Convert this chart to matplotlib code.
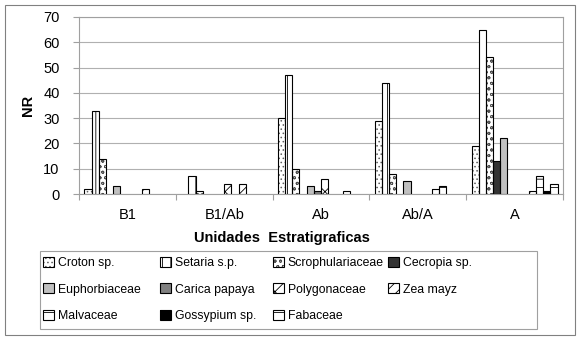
import numpy as np
import matplotlib
matplotlib.use("Agg")
import matplotlib.pyplot as plt
from matplotlib.patches import Patch, Rectangle

# datos: NR por unidad estratigrafica
unidades = ["B1", "B1/Ab", "Ab", "Ab/A", "A"]

# 12 series en el grafico original; la octava no tiene valores ni leyenda
taxa = ["Croton sp.", "Setaria s.p.", "Scrophulariaceae", "Cecropia sp.",
        "Euphorbiaceae", "Carica papaya", "Polygonaceae", None,
        "Zea mayz", "Malvaceae", "Gossypium sp.", "Fabaceae"]

nan = np.nan
croton = [2, nan, 30, 29, 19]
setaria = [33, 7, 47, 44, 65]
scroph = [14, 1, 10, 8, 54]
cecropia = [nan, nan, nan, nan, 13]
euphorb = [3, nan, 3, 5, 22]
carica = [nan, nan, 1, nan, nan]
polygon = [nan, 4, 6, nan, nan]
vacia = [nan, nan, nan, nan, nan]
zea = [2, 4, nan, 2, 1]
malva = [nan, nan, 1, 3, 7]
gossyp = [nan, nan, nan, nan, 1]
fabaceae = [nan, nan, nan, nan, 4]

valores = [croton, setaria, scroph, cecropia, euphorb, carica, polygon,
           vacia, zea, malva, gossyp, fabaceae]

# estilo de cada serie (relleno, trama, color de trama)
rellenos = ["white", "white", "white", "#333333", "#c0c0c0", "#808080",
            "white", "white", "white", "white", "black", "white"]
tramas = ["....", "||", "ooo", None, None, None, "xx", None,
          "///", "--", None, "--"]
color_trama = ["#606060", "black", "#505050", "black", "black", "black",
               "black", "black", "black", "black", "black", "black"]

plt.rcParams["font.family"] = ["Liberation Sans", "DejaVu Sans"]
plt.rcParams["hatch.linewidth"] = 0.6

fig = plt.figure(figsize=(5.8, 3.4), dpi=100)
ax = fig.add_axes([79 / 580, 1 - 194 / 340, (563 - 79) / 580, (194 - 17) / 340])

n = len(taxa)
w = 1 / (n + 1.5)
x = np.arange(len(unidades))

for k in range(n):
    if taxa[k] is None:
        continue
    pos = x - 0.5 + w * (0.75 + k + 0.5)
    # relleno con trama, luego el contorno negro encima
    ax.bar(pos, valores[k], width=w, color=rellenos[k], hatch=tramas[k],
           edgecolor=color_trama[k], linewidth=0, zorder=3)
    ax.bar(pos, valores[k], width=w, fill=False, edgecolor="black",
           linewidth=0.8, zorder=4)

ax.set_xlim(-0.5, len(unidades) - 0.5)
ax.set_ylim(0, 70)
ax.set_yticks(range(0, 71, 10))
ax.yaxis.grid(True, color="#b0b0b0", linewidth=0.8, zorder=0)
ax.set_axisbelow(True)
for s in ax.spines.values():
    s.set_color("#a0a0a0")
    s.set_linewidth(0.8)

ax.set_xticks(np.arange(-0.5, len(unidades), 1.0))
ax.set_xticklabels([])
ax.set_xticks(x, minor=True)
ax.set_xticklabels(unidades, minor=True, fontsize=10.5)
ax.tick_params(axis="x", which="major", length=4, color="#a0a0a0")
ax.tick_params(axis="x", which="minor", length=0, pad=10)
ax.tick_params(axis="y", length=4, color="#a0a0a0", labelsize=10.5, pad=10)

ax.set_ylabel("NR", fontsize=10.5, fontweight="bold", labelpad=6)

fig.text(282 / 580, 1 - 238 / 340, "Unidades  Estratigraficas",
         ha="center", va="center", fontsize=10.5, fontweight="bold")

# leyenda: 4 columnas de ancho fijo, llenadas por filas como en Excel
handles, labels = [], []
for k in range(n):
    if taxa[k] is None:
        continue
    handles.append((Patch(facecolor=rellenos[k], hatch=tramas[k],
                          edgecolor=color_trama[k], linewidth=0),
                    Patch(fill=False, edgecolor="black", linewidth=0.8)))
    labels.append(taxa[k])
ncol = 4
col_x = [43, 160, 273, 388]
for c in range(ncol):
    idx = list(range(c, len(handles), ncol))
    leg = fig.legend([handles[i] for i in idx], [labels[i] for i in idx],
                     loc="upper left",
                     bbox_to_anchor=(col_x[c] / 580, 1 - 257 / 340),
                     fontsize=8.8, frameon=False,
                     handlelength=0.9, handleheight=0.9, handletextpad=0.3,
                     borderpad=0.0, labelspacing=1.15, borderaxespad=0)

# marco de la leyenda y marco exterior del grafico
fig.patches.append(Rectangle((40 / 580, 1 - 329 / 340), 497 / 580, 78 / 340,
                             transform=fig.transFigure, fill=False,
                             edgecolor="#a0a0a0", linewidth=0.8))
fig.patches.append(Rectangle((5 / 580, 5 / 340), 570 / 580, 330 / 340,
                             transform=fig.transFigure, fill=False,
                             edgecolor="#808080", linewidth=0.8))

fig.savefig("out.png", dpi=100)
